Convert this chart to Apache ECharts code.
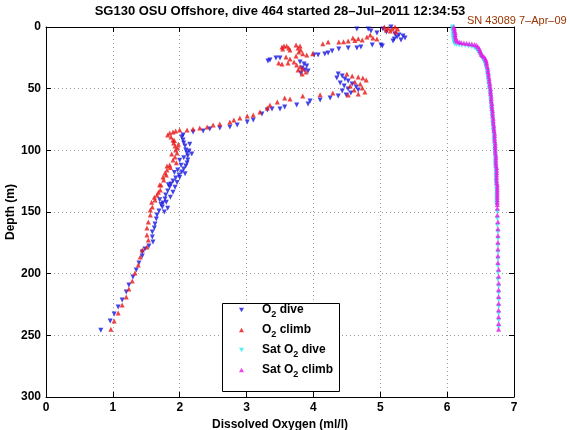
<!DOCTYPE html>
<html>
<head>
<meta charset="utf-8">
<script src="https://cdn.jsdelivr.net/npm/echarts@6/dist/echarts.min.js"></script>
<style>html,body{margin:0;padding:0;background:#fff}#c{width:570px;height:430px}</style>
</head>
<body>
<div id="c"></div>
<script>
// ---- data: [dissolved oxygen (ml/l), depth (m)] ----
const diveO2 = [
[5.16,0.0],[5.04,1.6],[4.82,1.6],[4.65,1.6],[4.86,3.2],[4.95,4.9],[5.09,4.1],[5.22,5.7],[5.28,6.5],[5.34,7.3],
[5.25,8.1],[5.21,9.7],[5.31,10.5],[5.19,11.4],[5.37,8.9],[5.01,14.6],[5.03,15.4],[4.88,14.6],[4.71,16.2],[4.65,17.0],
[4.52,17.0],[4.38,17.8],[4.28,19.5],[4.22,21.1],[4.17,21.9],[4.07,22.7],[4.01,22.7],
[3.50,25.1],[3.44,25.1],[3.35,26.8],[3.32,27.6],
[3.80,28.4],[3.86,30.0],[3.90,31.6],[3.83,33.2],[3.87,34.9],[3.92,35.7],[3.81,37.3],
[4.37,38.1],[4.43,39.7],[4.35,41.4],[4.47,42.2],[4.52,43.8],[4.40,45.4],[4.58,46.2],[4.46,47.8],[4.64,48.6],[4.52,50.3],
[4.67,51.1],[4.43,51.9],[4.56,53.5],[4.49,55.1],[4.37,55.9],
[4.25,57.6],[4.10,59.2],[3.95,60.0],[3.92,62.4],[3.75,63.2],[3.57,64.9],[3.50,66.5],[3.38,66.5],[3.31,67.3],[3.23,70.5],
[3.10,75.4],[3.01,77.0],[2.86,79.5],[2.75,81.1],[2.60,81.9],[2.45,82.7],[2.35,84.3],[2.20,85.1],[2.05,87.6],
[2.03,89.2],[2.05,91.6],[2.06,94.1],[2.08,96.5],[2.09,99.7],[2.11,102.2],[2.12,104.6],[2.12,107.8],[2.11,110.3],[2.09,112.7],
[2.06,115.1],[2.03,117.6],[1.99,120.0],[1.94,122.4],[1.90,124.9],[1.87,127.3],[1.85,129.7],[1.82,133.0],[1.79,136.2],[1.78,139.5],
[1.75,142.7],[1.74,145.9],[1.69,149.2],[1.66,152.4],[1.65,155.7],[1.63,159.7],[1.62,163.0],[1.59,166.2],[1.59,170.3],[1.60,174.3],
[1.54,177.6],[1.48,180.0],[1.44,182.4],[1.44,185.7],
[2.14,100.5],[2.06,106.0],[2.15,95.0],[2.02,112.0],[2.00,108.0],[1.97,116.0],[1.92,118.0],[2.08,119.0],[1.96,126.0],[1.93,130.0],
[1.83,128.0],[1.90,134.0],[1.86,138.0],[1.80,142.0],[1.72,144.0],[1.82,147.0],[1.70,140.0],[1.77,150.0],[2.18,103.0],[2.00,122.0],
[1.39,191.4],[1.35,197.0],[1.30,202.7],[1.24,209.2],[1.20,214.9],[1.14,221.4],[1.08,227.0],[1.02,232.7],[0.96,238.4],[0.82,245.9]
];
const climbO2 = [
[0.97,245.0],[1.02,238.4],[1.08,231.9],[1.14,225.4],[1.20,218.9],[1.24,212.4],[1.29,205.9],[1.33,199.4],[1.38,192.9],[1.41,186.5],
[1.44,180.8],[1.51,178.4],[1.53,172.7],[1.51,168.6],[1.51,163.0],[1.53,158.1],[1.56,152.4],[1.56,148.4],[1.59,145.9],[1.63,140.3],
[1.66,136.2],[1.71,132.2],[1.72,128.1],[1.75,121.6],[1.78,118.4],[1.81,115.9],[1.81,112.7],[1.85,111.9],[1.90,107.8],[1.93,105.4],
[1.96,102.2],[1.94,99.7],[1.93,96.5],[1.91,94.1],[1.90,91.6],[1.87,89.2],[1.82,87.6],[1.85,85.9],[1.90,85.1],[1.94,84.3],
[2.00,83.5],[2.11,83.5],[2.20,82.7],[2.30,81.9],[2.41,81.1],[2.50,79.5],[2.60,78.6],[2.75,77.0],[2.81,75.4],[2.90,73.8],
[3.01,72.2],[3.10,71.4],[3.20,68.9],[3.31,65.7],[3.35,63.2],[3.46,60.8],[3.57,57.6],[3.65,58.4],
[1.97,98.0],[1.88,103.0],[1.95,110.0],[1.86,114.0],[1.76,124.0],[1.70,128.0],[1.80,120.0],[1.62,138.0],[1.68,134.0],[1.58,142.0],
[1.92,92.0],[1.98,95.0],
[3.84,56.0],[4.10,55.0],[4.29,53.5],
[4.50,38.1],[4.58,39.7],[4.67,40.5],[4.74,41.4],[4.79,43.0],[4.62,44.6],[4.70,46.2],[4.55,47.8],[4.73,49.5],[4.61,51.1],
[4.77,52.7],[4.67,54.3],[4.52,55.1],
[3.48,29.2],[3.53,30.0],[3.59,24.3],[3.65,25.9],[3.71,28.4],[3.62,29.2],[3.74,23.5],[3.75,30.8],[3.80,32.4],[3.84,34.1],
[3.89,36.5],[3.77,34.9],[3.83,38.1],
[3.53,16.2],[3.56,15.4],[3.60,15.4],[3.63,17.0],[3.54,17.8],[3.65,18.6],[3.74,14.6],[3.77,17.0],[3.80,15.4],[3.81,18.6],[3.78,20.3],
[3.84,21.6],[3.90,22.7],[3.99,21.6],[4.14,13.5],[4.22,12.2],[4.38,12.2],[4.52,11.4],[4.59,8.9],[4.67,9.5],[4.73,10.5],
[4.80,8.1],[4.85,6.5],[4.89,8.9],[4.95,9.7],[4.62,11.0],[4.45,12.0],
[5.06,0.0],[5.12,0.8],[5.18,1.6],[5.22,0.0],[5.15,3.2],[5.23,4.1],[5.09,2.4],[5.26,1.6]
];
const satDive = [
[6.08,0],[6.08,1.5],[6.08,3],[6.09,4.5],[6.09,6],[6.09,7.5],[6.09,9],[6.10,10.5],[6.10,12],[6.11,13.5],
[6.14,14.2],[6.18,14.6],[6.22,14.8],[6.27,15],[6.32,15.4],[6.37,16],[6.41,16.8],[6.44,18],[6.46,19.5],[6.48,21],
[6.50,22.5],[6.51,24],[6.53,25.5],[6.55,27],[6.56,28.5],[6.57,30],[6.58,32],[6.59,34],[6.60,36],[6.60,38],
[6.61,40],[6.61,42],[6.62,44],[6.62,46],[6.63,48],[6.63,50],[6.64,52],[6.64,54],[6.65,56],[6.65,58],
[6.65,60],[6.66,62],[6.66,64],[6.66,66],[6.67,68],[6.67,70],[6.67,72],[6.68,74],[6.68,76],[6.68,78],
[6.69,80],[6.69,82],[6.69,84],[6.70,86],[6.70,88],[6.70,90],[6.70,92],[6.71,94],[6.71,96],[6.71,98],
[6.71,100],[6.72,102],[6.72,104],[6.72,106],[6.72,108],[6.72,110],[6.72,112],[6.73,114],[6.73,116],[6.73,118],
[6.73,120],[6.73,122],[6.73,124],[6.73,126],[6.74,128],[6.74,130],[6.74,132],[6.74,134],[6.74,136],[6.74,138],
[6.74,140],[6.74,142],[6.74,144],
[6.75,149.7],[6.75,155.2],[6.75,160.7],[6.76,166.2],[6.76,171.7],[6.76,177.2],[6.76,182.7],[6.76,188.2],[6.76,193.7],
[6.76,199.2],[6.76,204.7],[6.77,210.2],[6.77,215.7],[6.77,221.2],[6.77,226.7],[6.77,232.2],[6.77,237.7],[6.77,243.2]
];
const satClimb = [
[6.10,0],[6.11,1.5],[6.11,3],[6.12,4.5],[6.12,6],[6.12,7.5],[6.13,9],[6.13,10.5],
[6.15,11.5],[6.18,12.2],[6.21,12.6],[6.25,13],[6.29,13.2],[6.33,13.5],[6.37,13.8],[6.41,14.2],[6.44,14.8],
[6.46,16],[6.48,17.5],[6.49,19],[6.50,20.5],[6.51,22],[6.53,23.2],[6.55,24.2],[6.57,25.5],[6.58,27],[6.59,28.5],
[6.59,30],[6.60,32],[6.61,34],[6.61,36],[6.62,38],[6.62,40],[6.63,42],[6.63,44],[6.64,46],[6.64,48],
[6.65,50],[6.65,52],[6.65,54],[6.66,56],[6.66,58],[6.66,60],[6.67,62],[6.67,64],[6.67,66],[6.68,68],
[6.68,70],[6.68,72],[6.69,74],[6.69,76],[6.69,78],[6.70,80],[6.70,82],[6.70,84],[6.71,86],[6.71,88],
[6.71,90],[6.71,92],[6.72,94],[6.72,96],[6.72,98],[6.72,100],[6.72,102],[6.73,104],[6.73,106],[6.73,108],
[6.73,110],[6.73,112],[6.74,114],[6.74,116],[6.74,118],[6.74,120],[6.74,122],[6.74,124],[6.74,126],[6.75,128],
[6.75,130],[6.75,132],[6.75,134],[6.75,136],[6.75,138],[6.75,140],[6.75,142],[6.75,144],
[6.75,147],[6.75,152.5],[6.76,158],[6.76,163.5],[6.76,169],[6.76,174.5],[6.76,180],[6.76,185.5],[6.76,191],
[6.77,196.5],[6.77,202],[6.77,207.5],[6.77,213],[6.77,218.5],[6.77,224],[6.77,229.5],[6.77,235],[6.77,240.5],[6.77,245]
];
const seriesNames = ['O2 dive','O2 climb','Sat O2 dive','Sat O2 climb'];
const xMin = 0, xMax = 7, xStep = 1;
const yMin = 0, yMax = 300, yStep = 50;
const titleText = 'SG130 OSU Offshore, dive 464 started 28\u2013Jul\u20132011 12:34:53';
const snText = 'SN 43089 7\u2013Apr\u201309';
const xName = 'Dissolved Oxygen (ml/l)';
const yName = 'Depth (m)';

const FONT = 'Liberation Sans, Arial, Helvetica, sans-serif';
const downTri = 'path://M0,0L10,0L5,9Z';
const upTri = 'path://M5,0L10,9L0,9Z';
const colors = ['#1414e0','#e81414','#2ee8f2','#e619e6'];

const chart = echarts.init(document.getElementById('c'));
function axisCommon(show) {
  return {
    axisLine: {show: true, onZero: false, lineStyle: {color: '#000', width: 1}},
    axisTick: {show: true, inside: true, length: 5, lineStyle: {color: '#000'}},
    axisLabel: {show: show, color: '#000', fontWeight: 'bold', fontSize: 12, fontFamily: FONT, margin: 5},
  };
}
const option = {
  animation: false,
  backgroundColor: '#fff',
  title: {
    text: titleText, left: 280, top: 5, textAlign: 'center', padding: 0,
    textStyle: {fontSize: 13, fontWeight: 'bold', color: '#000', fontFamily: FONT}
  },
  grid: {left: 46, right: 56, top: 27, bottom: 33, containLabel: false, outerBoundsMode: 'none'},
  xAxis: [
    Object.assign(axisCommon(true), {
      type: 'value', position: 'bottom', min: xMin, max: xMax, interval: xStep,
      name: xName, nameLocation: 'middle', nameGap: 22, nameMoveOverlap: false,
      nameTextStyle: {fontWeight: 'bold', fontSize: 12, color: '#000', fontFamily: FONT},
      splitLine: {show: true, lineStyle: {color: '#9a9a9a', type: [1, 3], width: 1}}
    }),
    Object.assign(axisCommon(false), {
      type: 'value', position: 'top', min: xMin, max: xMax, interval: xStep,
      splitLine: {show: false}
    })
  ],
  yAxis: [
    Object.assign(axisCommon(true), {
      type: 'value', position: 'left', inverse: true, min: yMin, max: yMax, interval: yStep,
      name: yName, nameLocation: 'middle', nameGap: 29, nameRotate: 90, nameMoveOverlap: false,
      nameTextStyle: {fontWeight: 'bold', fontSize: 12, color: '#000', fontFamily: FONT},
      splitLine: {show: true, lineStyle: {color: '#9a9a9a', type: [1, 3], width: 1}}
    }),
    Object.assign(axisCommon(false), {
      type: 'value', position: 'right', inverse: true, min: yMin, max: yMax, interval: yStep,
      splitLine: {show: false}
    })
  ],
  legend: {
    orient: 'vertical', left: 239, top: 304, z: 6,
    itemWidth: 5, itemHeight: 5, itemGap: 5,
    padding: 0,
    data: [
      {name: seriesNames[0], icon: downTri},
      {name: seriesNames[1], icon: upTri},
      {name: seriesNames[2], icon: downTri},
      {name: seriesNames[3], icon: upTri}
    ],
    formatter: function (n) { return n.replace('O2', 'O{sub|2}'); },
    textStyle: {
      color: '#000', fontWeight: 'bold', fontSize: 12, fontFamily: FONT,
      padding: [0, 0, 0, 13],
      rich: {sub: {fontSize: 9, fontWeight: 'bold', fontFamily: FONT, color: '#000', padding: [9, 0, 0, 0]}}
    }
  },
  graphic: [
    {type: 'rect', left: 222, top: 303, z: 5,
     shape: {width: 117, height: 88},
     style: {fill: '#fff', stroke: '#000', lineWidth: 1}},
    {type: 'text', left: 467, top: 15, z: 10,
     style: {text: snText, fill: '#993300', font: '11px ' + FONT}}
  ],
  series: [
    {name: seriesNames[0], type: 'scatter', data: diveO2, symbol: 'triangle', symbolRotate: 180, symbolSize: 5,
     itemStyle: {color: colors[0]}, xAxisIndex: 0, yAxisIndex: 0},
    {name: seriesNames[1], type: 'scatter', data: climbO2, symbol: 'triangle', symbolSize: 5,
     itemStyle: {color: colors[1]}, xAxisIndex: 0, yAxisIndex: 0},
    {name: seriesNames[2], type: 'scatter', data: satDive, symbol: 'triangle', symbolRotate: 180, symbolSize: 5,
     itemStyle: {color: colors[2]}, xAxisIndex: 0, yAxisIndex: 0},
    {name: seriesNames[3], type: 'scatter', data: satClimb, symbol: 'triangle', symbolSize: 5,
     itemStyle: {color: colors[3]}, xAxisIndex: 0, yAxisIndex: 0}
  ]
};
chart.setOption(option);
</script>
</body>
</html>
